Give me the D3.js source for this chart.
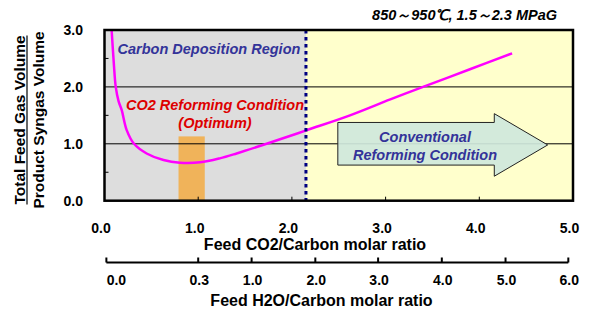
<!DOCTYPE html>
<html>
<head>
<meta charset="utf-8">
<script src="https://cdn.jsdelivr.net/npm/d3@7"></script>
<style>
  body { margin: 0; background: #fff; }
  svg text { font-family: "Liberation Sans", Arial, sans-serif; font-weight: bold; }
</style>
</head>
<body>
<svg id="chart"></svg>
<script>
// feed CO2/C ratio vs (total feed / product syngas) volume ratio
const curveX = [0.076, 0.098, 0.12, 0.15, 0.184, 0.237, 0.315, 0.45, 0.63, 0.806, 1.02, 1.23, 1.41, 1.73, 2.16, 2.62, 3.05, 3.40, 3.90, 4.35]
const curveY = [3.0, 2.45, 2.0, 1.75, 1.59, 1.24, 1.0, 0.83, 0.714, 0.667, 0.674, 0.744, 0.83, 1.0, 1.24, 1.50, 1.78, 2.0, 2.31, 2.59]

const xTicks = [0, 1, 2, 3, 4, 5]
const yTicks = [0, 1, 2, 3]
const yMinor = [0.5, 1.5, 2.5]
const gridY = [1, 2]
const h2oTicks = [0, 0.3, 1, 2, 3, 4, 5, 6]
const h2oAtCo2 = [0.02, 1, 1.57, 2.25, 2.92, 3.6, 4.28, 4.95] // where each H2O tick sits on CO2 axis

const carbonLimit = 2.15
const optimum = [0.79, 1.07]
const optimumTop = 1.13
// big arrow outline, in data units
const arrowPts = [[2.49, 1.375], [4.16, 1.375], [4.16, 1.53], [4.73, 0.98], [4.16, 0.43], [4.16, 0.626], [2.49, 0.626]]

const width = 594
const height = 311
const plotL = 104.5, plotR = 573, plotT = 30, plotB = 200.7

const svg = d3.select('#chart')
  .attr('width', width)
  .attr('height', height)

const x = d3.scaleLinear().domain([0, 5]).range([plotL, plotR])
const y = d3.scaleLinear().domain([0, 3]).range([plotB, plotT])

// regions
svg.append('rect')
  .attr('x', x(0)).attr('y', y(3))
  .attr('width', x(carbonLimit) - x(0)).attr('height', y(0) - y(3))
  .attr('fill', '#dddddd')
svg.append('rect')
  .attr('x', x(carbonLimit)).attr('y', y(3))
  .attr('width', x(5) - x(carbonLimit)).attr('height', y(0) - y(3))
  .attr('fill', '#ffffcc')

// optimum band
svg.append('rect')
  .attr('x', x(optimum[0])).attr('y', y(optimumTop))
  .attr('width', x(optimum[1]) - x(optimum[0]))
  .attr('height', y(0) - y(optimumTop))
  .attr('fill', '#f0b35a')

// grid lines
svg.selectAll('.grid')
  .data(gridY)
  .enter().append('line')
  .attr('x1', x(0)).attr('x2', x(5))
  .attr('y1', d => y(d)).attr('y2', d => y(d))
  .attr('stroke', '#000').attr('stroke-width', 1)

// inner ticks
svg.selectAll('.ymin')
  .data(yMinor)
  .enter().append('line')
  .attr('x1', x(0)).attr('x2', x(0) + 4)
  .attr('y1', d => y(d)).attr('y2', d => y(d))
  .attr('stroke', '#000').attr('stroke-width', 1)
svg.selectAll('.xin')
  .data(xTicks.slice(1, -1))
  .enter().append('line')
  .attr('x1', d => x(d)).attr('x2', d => x(d))
  .attr('y1', y(0)).attr('y2', y(0) - 4)
  .attr('stroke', '#000').attr('stroke-width', 1)

// curve
const pts = curveX.map((d, i) => [d, curveY[i]])
svg.append('path')
  .attr('d', d3.line().x(d => x(d[0])).y(d => y(d[1])).curve(d3.curveCatmullRom.alpha(0.5))(pts))
  .attr('fill', 'none')
  .attr('stroke', '#ff00ff')
  .attr('stroke-width', 2.5)

// carbon deposition limit
svg.append('line')
  .attr('x1', x(carbonLimit)).attr('x2', x(carbonLimit))
  .attr('y1', y(3)).attr('y2', y(0))
  .attr('stroke', '#000080').attr('stroke-width', 3)
  .attr('stroke-dasharray', '3.5,3.5')

// arrow
svg.append('path')
  .attr('d', d3.line().x(d => x(d[0])).y(d => y(d[1])).curve(d3.curveLinearClosed)(arrowPts))
  .attr('fill', '#cfe8dc')
  .attr('fill-opacity', 0.92)
  .attr('stroke', '#222')
  .attr('stroke-width', 1)

// frame
svg.append('rect')
  .attr('x', x(0)).attr('y', y(3))
  .attr('width', x(5) - x(0)).attr('height', y(0) - y(3))
  .attr('fill', 'none').attr('stroke', '#000').attr('stroke-width', 2.5)

// tick labels
svg.selectAll('.xl')
  .data(xTicks)
  .enter().append('text')
  .attr('x', d => x(d) - 3.5).attr('y', 232.7)
  .attr('text-anchor', 'middle')
  .style('font-size', '14px')
  .text(d => d.toFixed(1))
svg.selectAll('.yl')
  .data(yTicks)
  .enter().append('text')
  .attr('x', 83).attr('y', d => y(d) + 5)
  .attr('text-anchor', 'end')
  .style('font-size', '14px')
  .text(d => d.toFixed(1))

svg.append('text')
  .attr('x', 315).attr('y', 249.5)
  .attr('text-anchor', 'middle')
  .style('font-size', '16px')
  .text('Feed CO2/Carbon molar ratio')

// second axis (H2O/C)
const h = d3.scaleLinear().domain(h2oTicks).range(h2oAtCo2.map(x))
const axY = 262.5
svg.append('line')
  .attr('x1', h(0)).attr('x2', h(6))
  .attr('y1', axY).attr('y2', axY)
  .attr('stroke', '#000').attr('stroke-width', 2)
svg.selectAll('.ht')
  .data(h2oTicks)
  .enter().append('line')
  .attr('x1', d => h(d)).attr('x2', d => h(d))
  .attr('y1', axY).attr('y2', axY - 5)
  .attr('stroke', '#000').attr('stroke-width', 2)
svg.selectAll('.hl')
  .data(h2oTicks)
  .enter().append('text')
  .attr('x', d => d === 0 ? h(d) + 10 : h(d) + 1)
  .attr('y', 285)
  .attr('text-anchor', 'middle')
  .style('font-size', '14px')
  .text(d => d.toFixed(1))
svg.append('text')
  .attr('x', 321.5).attr('y', 306)
  .attr('text-anchor', 'middle')
  .style('font-size', '16px')
  .text('Feed H2O/Carbon molar ratio')

// y title as a fraction
const yTitle = svg.append('g').attr('transform', 'translate(0,120) rotate(-90)')
const num = yTitle.append('text')
  .attr('x', 0).attr('y', 25)
  .attr('text-anchor', 'middle')
  .style('font-size', '15.5px')
  .text('Total Feed Gas Volume')
yTitle.append('text')
  .attr('x', 0).attr('y', 44)
  .attr('text-anchor', 'middle')
  .style('font-size', '15.5px')
  .text('Product Syngas Volume')
const numLen = num.node().getComputedTextLength()
yTitle.append('line')
  .attr('x1', -numLen / 2).attr('x2', numLen / 2)
  .attr('y1', 27).attr('y2', 27)
  .attr('stroke', '#000').attr('stroke-width', 1.2)

// annotations
const note = (tx, ty, txt, col, size, anchor) => svg.append('text')
  .attr('x', tx).attr('y', ty)
  .attr('text-anchor', anchor || 'middle')
  .style('font-style', 'italic')
  .style('font-size', size + 'px')
  .attr('fill', col)
  .text(txt)

note(557, 19.5, '850～950℃, 1.5～2.3 MPaG', '#000', 14.5, 'end')
note(117.5, 54, 'Carbon Deposition Region', '#333399', 14.5, 'start')
note(215, 110, 'CO2 Reforming Condition', '#dd0000', 14.5)
note(215, 128, '(Optimum)', '#dd0000', 14.5)
note(425, 142, 'Conventional', '#333399', 14.5)
note(425, 160, 'Reforming Condition', '#333399', 14.5)
</script>
</body>
</html>
